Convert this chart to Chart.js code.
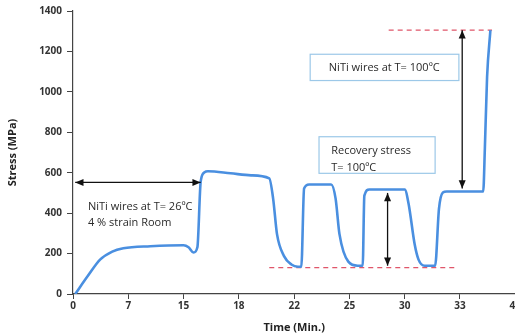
<!DOCTYPE html>
<html>
<head>
<meta charset="utf-8">
<script src="https://cdn.jsdelivr.net/npm/chart.js@4/dist/chart.umd.min.js"></script>
<style>
  html, body { margin: 0; padding: 0; background: #fff; overflow: hidden; }
  #wrap { width: 522px; height: 334px; }
</style>
</head>
<body>
<div id="wrap"><canvas id="c"></canvas></div>
<script>
// x runs over tick slots 0..8, each slot labelled with the time printed under it
const timeLabels = ['0', '7', '15', '18', '22', '25', '30', '33', '40'];

// stress curve (x in tick slots, y in MPa)
const curveX = [0.04, 0.27, 0.49, 0.71, 0.91, 1.40, 2.00, 2.09, 2.18, 2.25, 2.31, 2.38, 2.44, 2.85, 3.22,
    3.55, 3.62, 3.69, 3.82, 3.95, 4.07, 4.13, 4.18, 4.27, 4.67, 4.75, 4.82, 4.98, 5.15, 5.24,
    5.27, 5.36, 6.00, 6.07, 6.18, 6.25, 6.36, 6.55, 6.62, 6.69, 6.76, 7.36, 7.42, 7.45, 7.49, 7.55];
const curveY = [0, 90, 170, 210, 226, 236, 241, 231, 205, 231, 557, 602, 607, 597, 587,
    572, 472, 296, 186, 146, 135, 135, 522, 542, 542, 472, 296, 160, 140, 140,
    487, 517, 517, 447, 246, 170, 140, 140, 422, 502, 507, 507, 507, 723, 1074, 1305];

// red dashed reference levels
const lowLevelX = [3.55, 6.95];
const lowLevelY = [130, 130];
const highLevelX = [5.71, 7.58];
const highLevelY = [1305, 1305];

// arrows: [x1, y1, x2, y2]
const arrows = [
    [0.04, 552, 2.31, 552],
    [7.04, 1305, 7.04, 522],
    [5.69, 500, 5.69, 140]
];

const toPts = (xs, ys) => xs.map((x, i) => ({ x: x, y: ys[i] }));

const annotate = {
    id: 'annotate',
    afterDatasetsDraw(chart) {
        const { ctx, scales: { x, y } } = chart;
        const X = v => x.getPixelForValue(v);
        const Y = v => y.getPixelForValue(v);
        ctx.save();

        // arrows
        ctx.strokeStyle = '#111';
        ctx.fillStyle = '#111';
        ctx.lineWidth = 1.3;
        const head = (tx, ty, ang) => {
            ctx.beginPath();
            ctx.moveTo(tx, ty);
            ctx.lineTo(tx - 9 * Math.cos(ang - 0.4), ty - 9 * Math.sin(ang - 0.4));
            ctx.lineTo(tx - 9 * Math.cos(ang + 0.4), ty - 9 * Math.sin(ang + 0.4));
            ctx.closePath();
            ctx.fill();
        };
        arrows.forEach(a => {
            const x1 = X(a[0]), y1 = Y(a[1]), x2 = X(a[2]), y2 = Y(a[3]);
            const ang = Math.atan2(y2 - y1, x2 - x1);
            ctx.beginPath();
            ctx.moveTo(x1, y1);
            ctx.lineTo(x2, y2);
            ctx.stroke();
            head(x2, y2, ang);
            head(x1, y1, ang + Math.PI);
        });

        // boxes
        ctx.strokeStyle = '#9cc8e8';
        ctx.lineWidth = 1.2;
        ctx.strokeRect(X(4.29), Y(1186), X(6.98) - X(4.29), Y(1056) - Y(1186));
        ctx.strokeRect(X(4.45), Y(778), X(6.55) - X(4.45), Y(597) - Y(778));

        // texts
        ctx.fillStyle = '#2a2a2a';
        ctx.font = '11px "Open Sans", "Liberation Sans", sans-serif';
        ctx.textBaseline = 'middle';
        ctx.textAlign = 'center';
        ctx.fillText('NiTi wires at T= 100ºC', X(5.63), Y(1121));
        ctx.textAlign = 'left';
        ctx.fillText('Recovery stress', X(4.67), Y(710));
        ctx.fillText('T= 100ºC', X(4.67), Y(625));
        ctx.fillText('NiTi wires at T= 26ºC', X(0.27), Y(432));
        ctx.fillText('4 % strain Room', X(0.27), Y(351));
        ctx.restore();
    }
};

new Chart(document.getElementById('c'), {
    type: 'line',
    data: {
        datasets: [
            {
                data: toPts(curveX, curveY),
                borderColor: '#4a8fe0',
                borderWidth: 2.6,
                pointRadius: 0,
                cubicInterpolationMode: 'monotone',
                fill: false
            },
            {
                data: toPts(lowLevelX, lowLevelY),
                borderColor: '#e0566a',
                borderWidth: 1.3,
                borderDash: [5, 4],
                pointRadius: 0
            },
            {
                data: toPts(highLevelX, highLevelY),
                borderColor: '#e0566a',
                borderWidth: 1.3,
                borderDash: [5, 4],
                pointRadius: 0
            }
        ]
    },
    options: {
        responsive: true,
        maintainAspectRatio: false,
        animation: false,
        layout: { padding: { top: 9, left: 6, right: 0, bottom: 0 } },
        plugins: { legend: { display: false }, tooltip: { enabled: false } },
        scales: {
            x: {
                type: 'linear',
                min: 0,
                max: 8,
                afterFit: s => { s.height = 40; },
                border: { color: '#444', width: 1.2 },
                grid: { drawOnChartArea: false, tickLength: 5, color: '#444' },
                ticks: {
                    stepSize: 1,
                    color: '#333',
                    padding: 1,
                    font: { family: '"Open Sans", "Liberation Sans", sans-serif', size: 10, weight: 'bold' },
                    callback: v => timeLabels[v]
                },
                title: {
                    display: true,
                    text: 'Time (Min.)',
                    color: '#222',
                    padding: { top: 2, bottom: 0 },
                    font: { family: '"Open Sans", "Liberation Sans", sans-serif', size: 11, weight: 'bold' }
                }
            },
            y: {
                min: 0,
                max: 1400,
                afterFit: s => { s.width = 67; },
                border: { color: '#444', width: 1.2 },
                grid: { drawOnChartArea: false, tickLength: 6, color: '#444' },
                ticks: {
                    stepSize: 200,
                    color: '#333',
                    padding: 5,
                    font: { family: '"Open Sans", "Liberation Sans", sans-serif', size: 10, weight: 'bold' },
                    callback: v => String(v)
                },
                title: {
                    display: true,
                    text: 'Stress (MPa)',
                    color: '#222',
                    padding: { top: 0, bottom: 4 },
                    font: { family: '"Open Sans", "Liberation Sans", sans-serif', size: 11, weight: 'bold' }
                }
            }
        }
    },
    plugins: [annotate]
});
</script>
</body>
</html>
